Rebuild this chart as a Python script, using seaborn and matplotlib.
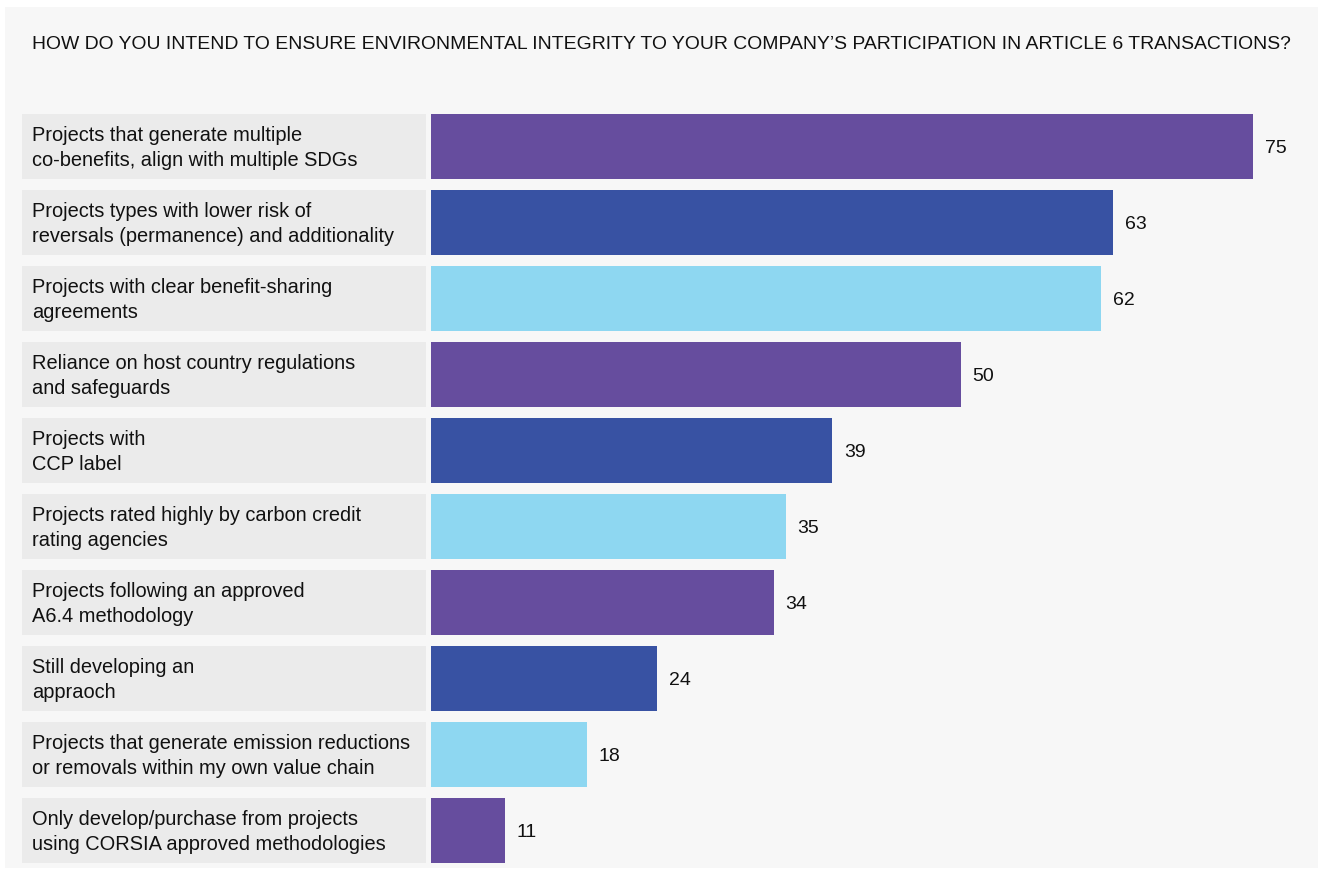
import matplotlib
matplotlib.use("Agg")
import matplotlib.pyplot as plt
from matplotlib.patches import Rectangle
from matplotlib import transforms
import seaborn as sns
import pandas as pd

sns.set_theme(style="white")
plt.rcParams["font.family"] = ["Liberation Sans", "DejaVu Sans"]

title = "HOW DO YOU INTEND TO ENSURE ENVIRONMENTAL INTEGRITY TO YOUR COMPANY\u2019S PARTICIPATION IN ARTICLE 6 TRANSACTIONS?"

categories = [
    "Projects that generate multiple\nco-benefits, align with multiple SDGs",
    "Projects types with lower risk of\nreversals (permanence) and additionality",
    "Projects with clear benefit-sharing\nagreements",
    "Reliance on host country regulations\nand safeguards",
    "Projects with\nCCP label",
    "Projects rated highly by carbon credit\nrating agencies",
    "Projects following an approved\nA6.4 methodology",
    "Still developing an\nappraoch",
    "Projects that generate emission reductions\nor removals within my own value chain",
    "Only develop/purchase from projects\nusing CORSIA approved methodologies",
]
values = [75, 63, 62, 50, 39, 35, 34, 24, 18, 11]

purple = "#664d9e"
navy = "#3852a3"
sky = "#8ed7f1"
bar_colors = [purple, navy, sky, purple, navy, sky, purple, navy, sky, purple]

df = pd.DataFrame({"category": categories, "value": values})

W, H = 1318, 872
fig = plt.figure(figsize=(W / 100, H / 100), dpi=100, facecolor="white")

# light panel behind the whole chart
fig.add_artist(Rectangle((5 / W, 1 - 868 / H), (W - 5) / W, (868 - 7) / H,
                         transform=fig.transFigure, facecolor="#f7f7f7",
                         edgecolor="none", zorder=-5))

fig.text(32 / W, 1 - 49 / H, title, ha="left", va="baseline",
         fontsize=13.95, color="#111111")

# bar area
ax_left, ax_right = 431, 1300
ax_top, ax_bottom = 108.5, 868.5
ax = fig.add_axes([ax_left / W, 1 - ax_bottom / H,
                   (ax_right - ax_left) / W, (ax_bottom - ax_top) / H])
ax.set_facecolor("none")
ax.set_zorder(5)

bar_h = 65 / 76
sns.barplot(data=df, x="value", y="category", hue="category",
            palette=bar_colors, legend=False, width=bar_h,
            orient="h", ax=ax, saturation=1, linewidth=0)

ax.set_xlim(4.67, 4.67 + (ax_right - ax_left) / 11.69)
ax.set_ylim(len(categories) - 0.5, -0.5)
ax.set_xlabel("")
ax.set_ylabel("")
ax.set_xticks([])
ax.set_yticks([])
for s in ax.spines.values():
    s.set_visible(False)

# category label boxes on the left
blend = transforms.blended_transform_factory(fig.transFigure, ax.transData)
for i, label in enumerate(categories):
    box = Rectangle((22 / W, i - bar_h / 2), (426 - 22) / W, bar_h,
                    transform=blend, facecolor="#ebebeb", edgecolor="none",
                    clip_on=False, zorder=1)
    fig.add_artist(box)
    fig.text(32 / W, i + 0.02, label, transform=blend, ha="left", va="center",
             fontsize=14.4, color="#111111", linespacing=1.42, zorder=2)

# value labels at bar ends
for i, v in enumerate(values):
    ax.annotate(str(v), xy=(v, i), xytext=(8.5, -1.5), textcoords="offset points",
                ha="left", va="center", fontsize=14, color="#111111")

fig.savefig("out.png", dpi=100, facecolor="white")
